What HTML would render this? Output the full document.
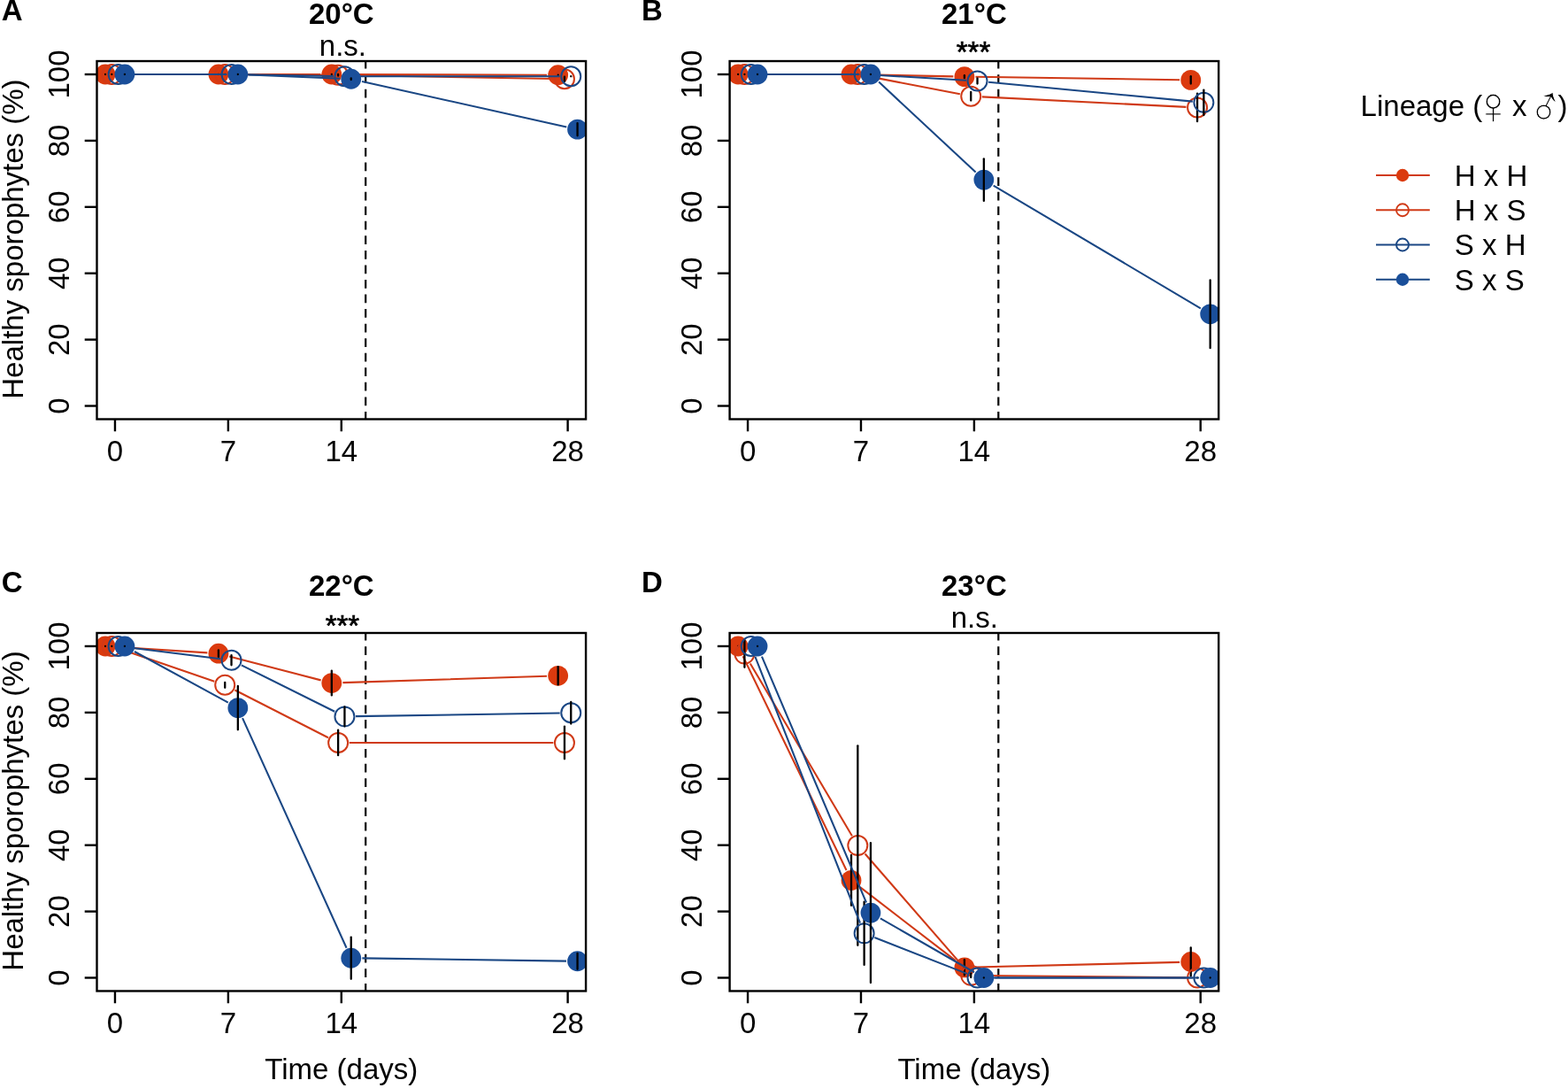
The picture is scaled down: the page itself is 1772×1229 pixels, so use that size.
<!DOCTYPE html>
<html><head><meta charset="utf-8"><title>Healthy sporophytes over time</title>
<style>html,body{margin:0;padding:0;background:#fff;}svg{display:block;}text{font-family:"Liberation Sans",Arial,sans-serif;fill:#000;}</style></head><body>
<svg width="1772" height="1229" viewBox="0 0 1772 1229">
<rect width="1772" height="1229" fill="#fff"/>
<defs>
<clipPath id="clipA"><rect x="109.5" y="69.03" width="552.58" height="404.47"/></clipPath>
<clipPath id="clipB"><rect x="824.6" y="69.03" width="552.58" height="404.47"/></clipPath>
<clipPath id="clipC"><rect x="109.5" y="715" width="552.58" height="404.47"/></clipPath>
<clipPath id="clipD"><rect x="824.6" y="715" width="552.58" height="404.47"/></clipPath>
</defs>
<g clip-path="url(#clipA)">
<line x1="413.2" y1="474.7" x2="413.2" y2="69.03" stroke="#000" stroke-width="2.2" stroke-dasharray="9.75 6.8"/>
<path d="M131.6,84.01L234.31,84.01M259.51,84.01L362.22,84.01M387.42,84.05L618.05,84.72" fill="none" stroke="#D03A17" stroke-width="2.1"/>
<circle cx="119" cy="84.01" r="11.4" fill="#DB3A0E"/>
<circle cx="246.91" cy="84.01" r="11.4" fill="#DB3A0E"/>
<circle cx="374.82" cy="84.01" r="11.4" fill="#DB3A0E"/>
<circle cx="630.65" cy="84.76" r="11.4" fill="#DB3A0E"/>
<line x1="119" y1="84.01" x2="119" y2="84.01" stroke="#000" stroke-width="2.3" stroke-linecap="round"/>
<line x1="246.91" y1="84.01" x2="246.91" y2="84.01" stroke="#000" stroke-width="2.3" stroke-linecap="round"/>
<line x1="374.82" y1="84.01" x2="374.82" y2="84.01" stroke="#000" stroke-width="2.3" stroke-linecap="round"/>
<line x1="630.65" y1="84.76" x2="630.65" y2="84.76" stroke="#000" stroke-width="2.3" stroke-linecap="round"/>
<path d="M138.91,84.01L241.62,84.01M266.82,84.08L369.53,84.69M394.73,84.98L625.36,89.03" fill="none" stroke="#D03A17" stroke-width="2.1"/>
<circle cx="126.31" cy="84.01" r="11.0" fill="none" stroke="#D03A17" stroke-width="2.0"/>
<circle cx="254.22" cy="84.01" r="11.0" fill="none" stroke="#D03A17" stroke-width="2.0"/>
<circle cx="382.13" cy="84.76" r="11.0" fill="none" stroke="#D03A17" stroke-width="2.0"/>
<circle cx="637.96" cy="89.25" r="11.0" fill="none" stroke="#D03A17" stroke-width="2.0"/>
<line x1="126.31" y1="84.01" x2="126.31" y2="84.01" stroke="#000" stroke-width="2.3" stroke-linecap="round"/>
<line x1="254.22" y1="84.01" x2="254.22" y2="84.01" stroke="#000" stroke-width="2.3" stroke-linecap="round"/>
<line x1="382.13" y1="84.01" x2="382.13" y2="85.51" stroke="#000" stroke-width="2.3" stroke-linecap="round"/>
<line x1="637.96" y1="86.63" x2="637.96" y2="91.88" stroke="#000" stroke-width="2.3" stroke-linecap="round"/>
<path d="M146.22,84.01L248.93,84.01M274.13,84.23L376.84,86.04M402.04,86.26L632.66,86.26" fill="none" stroke="#1A4784" stroke-width="2.1"/>
<circle cx="133.62" cy="84.01" r="11.0" fill="none" stroke="#1A4784" stroke-width="2.0"/>
<circle cx="261.53" cy="84.01" r="11.0" fill="none" stroke="#1A4784" stroke-width="2.0"/>
<circle cx="389.44" cy="86.26" r="11.0" fill="none" stroke="#1A4784" stroke-width="2.0"/>
<circle cx="645.26" cy="86.26" r="11.0" fill="none" stroke="#1A4784" stroke-width="2.0"/>
<line x1="133.62" y1="84.01" x2="133.62" y2="84.01" stroke="#000" stroke-width="2.3" stroke-linecap="round"/>
<line x1="261.53" y1="84.01" x2="261.53" y2="84.01" stroke="#000" stroke-width="2.3" stroke-linecap="round"/>
<line x1="389.44" y1="86.26" x2="389.44" y2="86.26" stroke="#000" stroke-width="2.3" stroke-linecap="round"/>
<line x1="645.26" y1="86.26" x2="645.26" y2="86.26" stroke="#000" stroke-width="2.3" stroke-linecap="round"/>
<path d="M153.53,84.01L256.24,84.01M281.43,84.53L384.16,88.74M409.05,91.99L640.27,143.44" fill="none" stroke="#1A4784" stroke-width="2.1"/>
<circle cx="140.93" cy="84.01" r="11.4" fill="#1A4F9A"/>
<circle cx="268.84" cy="84.01" r="11.4" fill="#1A4F9A"/>
<circle cx="396.75" cy="89.25" r="11.4" fill="#1A4F9A"/>
<circle cx="652.57" cy="146.18" r="11.4" fill="#1A4F9A"/>
<line x1="140.93" y1="84.01" x2="140.93" y2="84.01" stroke="#000" stroke-width="2.3" stroke-linecap="round"/>
<line x1="268.84" y1="84.01" x2="268.84" y2="84.01" stroke="#000" stroke-width="2.3" stroke-linecap="round"/>
<line x1="396.75" y1="88.5" x2="396.75" y2="90" stroke="#000" stroke-width="2.3" stroke-linecap="round"/>
<line x1="652.57" y1="139.06" x2="652.57" y2="153.29" stroke="#000" stroke-width="2.3" stroke-linecap="round"/>
</g>
<rect x="109.5" y="69.03" width="552.58" height="404.47" fill="none" stroke="#000" stroke-width="2.4"/>
<line x1="95.7" y1="458.52" x2="109.5" y2="458.52" stroke="#000" stroke-width="2.4"/>
<text x="0" y="0" font-size="33" text-anchor="middle" transform="translate(78.3,458.52) rotate(-90)">0</text>
<line x1="95.7" y1="383.62" x2="109.5" y2="383.62" stroke="#000" stroke-width="2.4"/>
<text x="0" y="0" font-size="33" text-anchor="middle" transform="translate(78.3,383.62) rotate(-90)">20</text>
<line x1="95.7" y1="308.72" x2="109.5" y2="308.72" stroke="#000" stroke-width="2.4"/>
<text x="0" y="0" font-size="33" text-anchor="middle" transform="translate(78.3,308.72) rotate(-90)">40</text>
<line x1="95.7" y1="233.81" x2="109.5" y2="233.81" stroke="#000" stroke-width="2.4"/>
<text x="0" y="0" font-size="33" text-anchor="middle" transform="translate(78.3,233.81) rotate(-90)">60</text>
<line x1="95.7" y1="158.91" x2="109.5" y2="158.91" stroke="#000" stroke-width="2.4"/>
<text x="0" y="0" font-size="33" text-anchor="middle" transform="translate(78.3,158.91) rotate(-90)">80</text>
<line x1="95.7" y1="84.01" x2="109.5" y2="84.01" stroke="#000" stroke-width="2.4"/>
<text x="0" y="0" font-size="33" text-anchor="middle" transform="translate(78.3,84.01) rotate(-90)">100</text>
<line x1="129.97" y1="473.5" x2="129.97" y2="487.3" stroke="#000" stroke-width="2.4"/>
<text x="129.97" y="520.53" font-size="33" text-anchor="middle">0</text>
<line x1="257.88" y1="473.5" x2="257.88" y2="487.3" stroke="#000" stroke-width="2.4"/>
<text x="257.88" y="520.53" font-size="33" text-anchor="middle">7</text>
<line x1="385.79" y1="473.5" x2="385.79" y2="487.3" stroke="#000" stroke-width="2.4"/>
<text x="385.79" y="520.53" font-size="33" text-anchor="middle">14</text>
<line x1="641.61" y1="473.5" x2="641.61" y2="487.3" stroke="#000" stroke-width="2.4"/>
<text x="641.61" y="520.53" font-size="33" text-anchor="middle">28</text>
<text x="0" y="0" font-size="33" text-anchor="middle" transform="translate(26.3,270.07) rotate(-90)">Healthy sporophytes (%)</text>
<text x="385.79" y="26.7" font-size="33" font-weight="bold" text-anchor="middle">20°C</text>
<text x="1.7" y="23.2" font-size="33" font-weight="bold">A</text>
<text x="387.45" y="62.9" font-size="33" text-anchor="middle">n.s.</text>
<g clip-path="url(#clipB)">
<line x1="1128.3" y1="474.7" x2="1128.3" y2="69.03" stroke="#000" stroke-width="2.2" stroke-dasharray="9.75 6.8"/>
<path d="M846.7,84.01L949.41,84.01M974.61,84.27L1077.33,86.37M1102.52,86.82L1333.15,90.19" fill="none" stroke="#D03A17" stroke-width="2.1"/>
<circle cx="834.1" cy="84.01" r="11.4" fill="#DB3A0E"/>
<circle cx="962.01" cy="84.01" r="11.4" fill="#DB3A0E"/>
<circle cx="1089.92" cy="86.63" r="11.4" fill="#DB3A0E"/>
<circle cx="1345.75" cy="90.38" r="11.4" fill="#DB3A0E"/>
<line x1="834.1" y1="84.01" x2="834.1" y2="84.01" stroke="#000" stroke-width="2.3" stroke-linecap="round"/>
<line x1="962.01" y1="84.01" x2="962.01" y2="84.01" stroke="#000" stroke-width="2.3" stroke-linecap="round"/>
<line x1="1089.92" y1="85.13" x2="1089.92" y2="88.13" stroke="#000" stroke-width="2.3" stroke-linecap="round"/>
<line x1="1345.75" y1="86.26" x2="1345.75" y2="94.5" stroke="#000" stroke-width="2.3" stroke-linecap="round"/>
<path d="M854.01,84.01L956.72,84.01M981.69,86.4L1084.86,106.34M1109.82,109.35L1340.47,120.84" fill="none" stroke="#D03A17" stroke-width="2.1"/>
<circle cx="841.41" cy="84.01" r="11.0" fill="none" stroke="#D03A17" stroke-width="2.0"/>
<circle cx="969.32" cy="84.01" r="11.0" fill="none" stroke="#D03A17" stroke-width="2.0"/>
<circle cx="1097.23" cy="108.73" r="11.0" fill="none" stroke="#D03A17" stroke-width="2.0"/>
<circle cx="1353.06" cy="121.46" r="11.0" fill="none" stroke="#D03A17" stroke-width="2.0"/>
<line x1="841.41" y1="84.01" x2="841.41" y2="84.01" stroke="#000" stroke-width="2.3" stroke-linecap="round"/>
<line x1="969.32" y1="84.01" x2="969.32" y2="84.01" stroke="#000" stroke-width="2.3" stroke-linecap="round"/>
<line x1="1097.23" y1="103.86" x2="1097.23" y2="113.6" stroke="#000" stroke-width="2.3" stroke-linecap="round"/>
<line x1="1353.06" y1="105.73" x2="1353.06" y2="137.19" stroke="#000" stroke-width="2.3" stroke-linecap="round"/>
<path d="M861.32,84.01L964.03,84.01M989.21,84.75L1091.96,90.76M1117.09,92.69L1347.82,114.65" fill="none" stroke="#1A4784" stroke-width="2.1"/>
<circle cx="848.72" cy="84.01" r="11.0" fill="none" stroke="#1A4784" stroke-width="2.0"/>
<circle cx="976.63" cy="84.01" r="11.0" fill="none" stroke="#1A4784" stroke-width="2.0"/>
<circle cx="1104.54" cy="91.5" r="11.0" fill="none" stroke="#1A4784" stroke-width="2.0"/>
<circle cx="1360.36" cy="115.84" r="11.0" fill="none" stroke="#1A4784" stroke-width="2.0"/>
<line x1="848.72" y1="84.01" x2="848.72" y2="84.01" stroke="#000" stroke-width="2.3" stroke-linecap="round"/>
<line x1="976.63" y1="84.01" x2="976.63" y2="84.01" stroke="#000" stroke-width="2.3" stroke-linecap="round"/>
<line x1="1104.54" y1="88.5" x2="1104.54" y2="94.5" stroke="#000" stroke-width="2.3" stroke-linecap="round"/>
<line x1="1360.36" y1="101.61" x2="1360.36" y2="130.08" stroke="#000" stroke-width="2.3" stroke-linecap="round"/>
<path d="M868.63,84.01L971.34,84.01M993.16,92.6L1102.63,194.52M1122.69,209.53L1356.84,348.36" fill="none" stroke="#1A4784" stroke-width="2.1"/>
<circle cx="856.03" cy="84.01" r="11.4" fill="#1A4F9A"/>
<circle cx="983.94" cy="84.01" r="11.4" fill="#1A4F9A"/>
<circle cx="1111.85" cy="203.1" r="11.4" fill="#1A4F9A"/>
<circle cx="1367.67" cy="354.78" r="11.4" fill="#1A4F9A"/>
<line x1="856.03" y1="84.01" x2="856.03" y2="84.01" stroke="#000" stroke-width="2.3" stroke-linecap="round"/>
<line x1="983.94" y1="84.01" x2="983.94" y2="84.01" stroke="#000" stroke-width="2.3" stroke-linecap="round"/>
<line x1="1111.85" y1="179.32" x2="1111.85" y2="226.89" stroke="#000" stroke-width="2.3" stroke-linecap="round"/>
<line x1="1367.67" y1="316.39" x2="1367.67" y2="393.17" stroke="#000" stroke-width="2.3" stroke-linecap="round"/>
</g>
<rect x="824.6" y="69.03" width="552.58" height="404.47" fill="none" stroke="#000" stroke-width="2.4"/>
<line x1="810.8" y1="458.52" x2="824.6" y2="458.52" stroke="#000" stroke-width="2.4"/>
<text x="0" y="0" font-size="33" text-anchor="middle" transform="translate(793.4,458.52) rotate(-90)">0</text>
<line x1="810.8" y1="383.62" x2="824.6" y2="383.62" stroke="#000" stroke-width="2.4"/>
<text x="0" y="0" font-size="33" text-anchor="middle" transform="translate(793.4,383.62) rotate(-90)">20</text>
<line x1="810.8" y1="308.72" x2="824.6" y2="308.72" stroke="#000" stroke-width="2.4"/>
<text x="0" y="0" font-size="33" text-anchor="middle" transform="translate(793.4,308.72) rotate(-90)">40</text>
<line x1="810.8" y1="233.81" x2="824.6" y2="233.81" stroke="#000" stroke-width="2.4"/>
<text x="0" y="0" font-size="33" text-anchor="middle" transform="translate(793.4,233.81) rotate(-90)">60</text>
<line x1="810.8" y1="158.91" x2="824.6" y2="158.91" stroke="#000" stroke-width="2.4"/>
<text x="0" y="0" font-size="33" text-anchor="middle" transform="translate(793.4,158.91) rotate(-90)">80</text>
<line x1="810.8" y1="84.01" x2="824.6" y2="84.01" stroke="#000" stroke-width="2.4"/>
<text x="0" y="0" font-size="33" text-anchor="middle" transform="translate(793.4,84.01) rotate(-90)">100</text>
<line x1="845.07" y1="473.5" x2="845.07" y2="487.3" stroke="#000" stroke-width="2.4"/>
<text x="845.07" y="520.53" font-size="33" text-anchor="middle">0</text>
<line x1="972.98" y1="473.5" x2="972.98" y2="487.3" stroke="#000" stroke-width="2.4"/>
<text x="972.98" y="520.53" font-size="33" text-anchor="middle">7</text>
<line x1="1100.89" y1="473.5" x2="1100.89" y2="487.3" stroke="#000" stroke-width="2.4"/>
<text x="1100.89" y="520.53" font-size="33" text-anchor="middle">14</text>
<line x1="1356.71" y1="473.5" x2="1356.71" y2="487.3" stroke="#000" stroke-width="2.4"/>
<text x="1356.71" y="520.53" font-size="33" text-anchor="middle">28</text>
<text x="1100.89" y="26.7" font-size="33" font-weight="bold" text-anchor="middle">21°C</text>
<text x="725.1" y="23.2" font-size="33" font-weight="bold">B</text>
<text x="1100" y="70.1" font-size="33" text-anchor="middle" stroke="#000" stroke-width="0.7">***</text>
<g clip-path="url(#clipC)">
<line x1="413.2" y1="1120.67" x2="413.2" y2="715" stroke="#000" stroke-width="2.2" stroke-dasharray="9.75 6.8"/>
<path d="M131.58,730.79L234.34,737.41M259.11,741.4L362.63,768.37M387.42,771.15L618.05,763.72" fill="none" stroke="#D03A17" stroke-width="2.1"/>
<circle cx="119" cy="729.98" r="11.4" fill="#DB3A0E"/>
<circle cx="246.91" cy="738.22" r="11.4" fill="#DB3A0E"/>
<circle cx="374.82" cy="771.55" r="11.4" fill="#DB3A0E"/>
<circle cx="630.65" cy="763.31" r="11.4" fill="#DB3A0E"/>
<line x1="119" y1="729.98" x2="119" y2="729.98" stroke="#000" stroke-width="2.3" stroke-linecap="round"/>
<line x1="246.91" y1="734.47" x2="246.91" y2="741.96" stroke="#000" stroke-width="2.3" stroke-linecap="round"/>
<line x1="374.82" y1="757.69" x2="374.82" y2="785.41" stroke="#000" stroke-width="2.3" stroke-linecap="round"/>
<line x1="630.65" y1="753.2" x2="630.65" y2="773.42" stroke="#000" stroke-width="2.3" stroke-linecap="round"/>
<path d="M138.23,734.06L242.3,769.71M265.45,779.52L370.91,833.24M394.73,838.96L625.36,838.96" fill="none" stroke="#D03A17" stroke-width="2.1"/>
<circle cx="126.31" cy="729.98" r="11.0" fill="none" stroke="#D03A17" stroke-width="2.0"/>
<circle cx="254.22" cy="773.8" r="11.0" fill="none" stroke="#D03A17" stroke-width="2.0"/>
<circle cx="382.13" cy="838.96" r="11.0" fill="none" stroke="#D03A17" stroke-width="2.0"/>
<circle cx="637.96" cy="838.96" r="11.0" fill="none" stroke="#D03A17" stroke-width="2.0"/>
<line x1="126.31" y1="729.98" x2="126.31" y2="729.98" stroke="#000" stroke-width="2.3" stroke-linecap="round"/>
<line x1="254.22" y1="770.8" x2="254.22" y2="776.79" stroke="#000" stroke-width="2.3" stroke-linecap="round"/>
<line x1="382.13" y1="824.73" x2="382.13" y2="853.19" stroke="#000" stroke-width="2.3" stroke-linecap="round"/>
<line x1="637.96" y1="820.61" x2="637.96" y2="857.31" stroke="#000" stroke-width="2.3" stroke-linecap="round"/>
<path d="M146.13,731.52L249.03,744.17M272.81,751.32L378.16,803.76M402.04,809.17L632.67,805.46" fill="none" stroke="#1A4784" stroke-width="2.1"/>
<circle cx="133.62" cy="729.98" r="11.0" fill="none" stroke="#1A4784" stroke-width="2.0"/>
<circle cx="261.53" cy="745.71" r="11.0" fill="none" stroke="#1A4784" stroke-width="2.0"/>
<circle cx="389.44" cy="809.38" r="11.0" fill="none" stroke="#1A4784" stroke-width="2.0"/>
<circle cx="645.26" cy="805.26" r="11.0" fill="none" stroke="#1A4784" stroke-width="2.0"/>
<line x1="133.62" y1="729.98" x2="133.62" y2="729.98" stroke="#000" stroke-width="2.3" stroke-linecap="round"/>
<line x1="261.53" y1="740.09" x2="261.53" y2="751.33" stroke="#000" stroke-width="2.3" stroke-linecap="round"/>
<line x1="389.44" y1="798.52" x2="389.44" y2="820.24" stroke="#000" stroke-width="2.3" stroke-linecap="round"/>
<line x1="645.26" y1="792.9" x2="645.26" y2="817.62" stroke="#000" stroke-width="2.3" stroke-linecap="round"/>
<path d="M152,736.01L257.78,793.61M274.04,811.12L391.56,1070.73M409.35,1082.38L639.97,1085.59" fill="none" stroke="#1A4784" stroke-width="2.1"/>
<circle cx="140.93" cy="729.98" r="11.4" fill="#1A4F9A"/>
<circle cx="268.84" cy="799.64" r="11.4" fill="#1A4F9A"/>
<circle cx="396.75" cy="1082.21" r="11.4" fill="#1A4F9A"/>
<circle cx="652.57" cy="1085.76" r="11.4" fill="#1A4F9A"/>
<line x1="140.93" y1="729.98" x2="140.93" y2="729.98" stroke="#000" stroke-width="2.3" stroke-linecap="round"/>
<line x1="268.84" y1="774.92" x2="268.84" y2="824.36" stroke="#000" stroke-width="2.3" stroke-linecap="round"/>
<line x1="396.75" y1="1058.61" x2="396.75" y2="1105.8" stroke="#000" stroke-width="2.3" stroke-linecap="round"/>
<line x1="652.57" y1="1076.78" x2="652.57" y2="1094.75" stroke="#000" stroke-width="2.3" stroke-linecap="round"/>
</g>
<rect x="109.5" y="715" width="552.58" height="404.47" fill="none" stroke="#000" stroke-width="2.4"/>
<line x1="95.7" y1="1104.49" x2="109.5" y2="1104.49" stroke="#000" stroke-width="2.4"/>
<text x="0" y="0" font-size="33" text-anchor="middle" transform="translate(78.3,1104.49) rotate(-90)">0</text>
<line x1="95.7" y1="1029.59" x2="109.5" y2="1029.59" stroke="#000" stroke-width="2.4"/>
<text x="0" y="0" font-size="33" text-anchor="middle" transform="translate(78.3,1029.59) rotate(-90)">20</text>
<line x1="95.7" y1="954.69" x2="109.5" y2="954.69" stroke="#000" stroke-width="2.4"/>
<text x="0" y="0" font-size="33" text-anchor="middle" transform="translate(78.3,954.69) rotate(-90)">40</text>
<line x1="95.7" y1="879.78" x2="109.5" y2="879.78" stroke="#000" stroke-width="2.4"/>
<text x="0" y="0" font-size="33" text-anchor="middle" transform="translate(78.3,879.78) rotate(-90)">60</text>
<line x1="95.7" y1="804.88" x2="109.5" y2="804.88" stroke="#000" stroke-width="2.4"/>
<text x="0" y="0" font-size="33" text-anchor="middle" transform="translate(78.3,804.88) rotate(-90)">80</text>
<line x1="95.7" y1="729.98" x2="109.5" y2="729.98" stroke="#000" stroke-width="2.4"/>
<text x="0" y="0" font-size="33" text-anchor="middle" transform="translate(78.3,729.98) rotate(-90)">100</text>
<line x1="129.97" y1="1119.47" x2="129.97" y2="1133.27" stroke="#000" stroke-width="2.4"/>
<text x="129.97" y="1166.5" font-size="33" text-anchor="middle">0</text>
<line x1="257.88" y1="1119.47" x2="257.88" y2="1133.27" stroke="#000" stroke-width="2.4"/>
<text x="257.88" y="1166.5" font-size="33" text-anchor="middle">7</text>
<line x1="385.79" y1="1119.47" x2="385.79" y2="1133.27" stroke="#000" stroke-width="2.4"/>
<text x="385.79" y="1166.5" font-size="33" text-anchor="middle">14</text>
<line x1="641.61" y1="1119.47" x2="641.61" y2="1133.27" stroke="#000" stroke-width="2.4"/>
<text x="641.61" y="1166.5" font-size="33" text-anchor="middle">28</text>
<text x="0" y="0" font-size="33" text-anchor="middle" transform="translate(26.3,916.04) rotate(-90)">Healthy sporophytes (%)</text>
<text x="385.79" y="672.67" font-size="33" font-weight="bold" text-anchor="middle">22°C</text>
<text x="1.7" y="669.17" font-size="33" font-weight="bold">C</text>
<text x="386.9" y="717.7" font-size="33" text-anchor="middle" stroke="#000" stroke-width="0.7">***</text>
<text x="385.79" y="1219.4" font-size="33" text-anchor="middle">Time (days)</text>
<g clip-path="url(#clipD)">
<line x1="1128.3" y1="1120.67" x2="1128.3" y2="715" stroke="#000" stroke-width="2.2" stroke-dasharray="9.75 6.8"/>
<path d="M839.59,741.32L956.53,983.04M972,1002.07L1079.94,1085.19M1102.52,1092.57L1333.15,1086.83" fill="none" stroke="#D03A17" stroke-width="2.1"/>
<circle cx="834.1" cy="729.98" r="11.4" fill="#DB3A0E"/>
<circle cx="962.01" cy="994.38" r="11.4" fill="#DB3A0E"/>
<circle cx="1089.92" cy="1092.88" r="11.4" fill="#DB3A0E"/>
<circle cx="1345.75" cy="1086.51" r="11.4" fill="#DB3A0E"/>
<line x1="834.1" y1="729.98" x2="834.1" y2="729.98" stroke="#000" stroke-width="2.3" stroke-linecap="round"/>
<line x1="962.01" y1="965.92" x2="962.01" y2="1022.85" stroke="#000" stroke-width="2.3" stroke-linecap="round"/>
<line x1="1089.92" y1="1084.27" x2="1089.92" y2="1101.49" stroke="#000" stroke-width="2.3" stroke-linecap="round"/>
<line x1="1345.75" y1="1070.41" x2="1345.75" y2="1102.62" stroke="#000" stroke-width="2.3" stroke-linecap="round"/>
<path d="M847.82,749.44L962.91,944.21M977.6,964.56L1088.96,1092.37M1109.83,1102L1340.46,1104.36" fill="none" stroke="#D03A17" stroke-width="2.1"/>
<circle cx="841.41" cy="738.59" r="11.0" fill="none" stroke="#D03A17" stroke-width="2.0"/>
<circle cx="969.32" cy="955.06" r="11.0" fill="none" stroke="#D03A17" stroke-width="2.0"/>
<circle cx="1097.23" cy="1101.87" r="11.0" fill="none" stroke="#D03A17" stroke-width="2.0"/>
<circle cx="1353.06" cy="1104.49" r="11.0" fill="none" stroke="#D03A17" stroke-width="2.0"/>
<line x1="841.41" y1="723.43" x2="841.41" y2="753.76" stroke="#000" stroke-width="2.3" stroke-linecap="round"/>
<line x1="969.32" y1="842.33" x2="969.32" y2="1067.79" stroke="#000" stroke-width="2.3" stroke-linecap="round"/>
<line x1="1097.23" y1="1099.62" x2="1097.23" y2="1104.12" stroke="#000" stroke-width="2.3" stroke-linecap="round"/>
<line x1="1353.06" y1="1104.49" x2="1353.06" y2="1104.49" stroke="#000" stroke-width="2.3" stroke-linecap="round"/>
<path d="M853.34,741.7L972.01,1042.58M988.36,1058.91L1092.81,1099.89M1117.14,1104.49L1347.76,1104.49" fill="none" stroke="#1A4784" stroke-width="2.1"/>
<circle cx="848.72" cy="729.98" r="11.0" fill="none" stroke="#1A4784" stroke-width="2.0"/>
<circle cx="976.63" cy="1054.31" r="11.0" fill="none" stroke="#1A4784" stroke-width="2.0"/>
<circle cx="1104.54" cy="1104.49" r="11.0" fill="none" stroke="#1A4784" stroke-width="2.0"/>
<circle cx="1360.36" cy="1104.49" r="11.0" fill="none" stroke="#1A4784" stroke-width="2.0"/>
<line x1="848.72" y1="729.98" x2="848.72" y2="729.98" stroke="#000" stroke-width="2.3" stroke-linecap="round"/>
<line x1="976.63" y1="1018.73" x2="976.63" y2="1089.88" stroke="#000" stroke-width="2.3" stroke-linecap="round"/>
<line x1="1104.54" y1="1104.49" x2="1104.54" y2="1104.49" stroke="#000" stroke-width="2.3" stroke-linecap="round"/>
<line x1="1360.36" y1="1104.49" x2="1360.36" y2="1104.49" stroke="#000" stroke-width="2.3" stroke-linecap="round"/>
<path d="M860.96,741.58L979.01,1019.49M994.87,1037.36L1100.92,1098.22M1124.45,1104.49L1355.07,1104.49" fill="none" stroke="#1A4784" stroke-width="2.1"/>
<circle cx="856.03" cy="729.98" r="11.4" fill="#1A4F9A"/>
<circle cx="983.94" cy="1031.09" r="11.4" fill="#1A4F9A"/>
<circle cx="1111.85" cy="1104.49" r="11.4" fill="#1A4F9A"/>
<circle cx="1367.67" cy="1104.49" r="11.4" fill="#1A4F9A"/>
<line x1="856.03" y1="729.98" x2="856.03" y2="729.98" stroke="#000" stroke-width="2.3" stroke-linecap="round"/>
<line x1="983.94" y1="952.06" x2="983.94" y2="1110.11" stroke="#000" stroke-width="2.3" stroke-linecap="round"/>
<line x1="1111.85" y1="1104.49" x2="1111.85" y2="1104.49" stroke="#000" stroke-width="2.3" stroke-linecap="round"/>
<line x1="1367.67" y1="1104.49" x2="1367.67" y2="1104.49" stroke="#000" stroke-width="2.3" stroke-linecap="round"/>
</g>
<rect x="824.6" y="715" width="552.58" height="404.47" fill="none" stroke="#000" stroke-width="2.4"/>
<line x1="810.8" y1="1104.49" x2="824.6" y2="1104.49" stroke="#000" stroke-width="2.4"/>
<text x="0" y="0" font-size="33" text-anchor="middle" transform="translate(793.4,1104.49) rotate(-90)">0</text>
<line x1="810.8" y1="1029.59" x2="824.6" y2="1029.59" stroke="#000" stroke-width="2.4"/>
<text x="0" y="0" font-size="33" text-anchor="middle" transform="translate(793.4,1029.59) rotate(-90)">20</text>
<line x1="810.8" y1="954.69" x2="824.6" y2="954.69" stroke="#000" stroke-width="2.4"/>
<text x="0" y="0" font-size="33" text-anchor="middle" transform="translate(793.4,954.69) rotate(-90)">40</text>
<line x1="810.8" y1="879.78" x2="824.6" y2="879.78" stroke="#000" stroke-width="2.4"/>
<text x="0" y="0" font-size="33" text-anchor="middle" transform="translate(793.4,879.78) rotate(-90)">60</text>
<line x1="810.8" y1="804.88" x2="824.6" y2="804.88" stroke="#000" stroke-width="2.4"/>
<text x="0" y="0" font-size="33" text-anchor="middle" transform="translate(793.4,804.88) rotate(-90)">80</text>
<line x1="810.8" y1="729.98" x2="824.6" y2="729.98" stroke="#000" stroke-width="2.4"/>
<text x="0" y="0" font-size="33" text-anchor="middle" transform="translate(793.4,729.98) rotate(-90)">100</text>
<line x1="845.07" y1="1119.47" x2="845.07" y2="1133.27" stroke="#000" stroke-width="2.4"/>
<text x="845.07" y="1166.5" font-size="33" text-anchor="middle">0</text>
<line x1="972.98" y1="1119.47" x2="972.98" y2="1133.27" stroke="#000" stroke-width="2.4"/>
<text x="972.98" y="1166.5" font-size="33" text-anchor="middle">7</text>
<line x1="1100.89" y1="1119.47" x2="1100.89" y2="1133.27" stroke="#000" stroke-width="2.4"/>
<text x="1100.89" y="1166.5" font-size="33" text-anchor="middle">14</text>
<line x1="1356.71" y1="1119.47" x2="1356.71" y2="1133.27" stroke="#000" stroke-width="2.4"/>
<text x="1356.71" y="1166.5" font-size="33" text-anchor="middle">28</text>
<text x="1100.89" y="672.67" font-size="33" font-weight="bold" text-anchor="middle">23°C</text>
<text x="725.1" y="669.17" font-size="33" font-weight="bold">D</text>
<text x="1101.25" y="708.7" font-size="33" text-anchor="middle">n.s.</text>
<text x="1100.89" y="1219.4" font-size="33" text-anchor="middle">Time (days)</text>
<text x="1537.6" y="130.7" font-size="33">Lineage (</text>
<text x="1709.1" y="130.7" font-size="33">x</text>
<text x="1760.6" y="130.7" font-size="33">)</text>
<text x="1665.1" y="140.1" font-size="60" stroke="#fff" stroke-width="0.8">♀</text>
<text x="0" y="0" font-size="60" stroke="#fff" stroke-width="0.8" transform="translate(1744.5,126.55) rotate(-18.1) translate(-18.35,15.8)">♂</text>
<line x1="1555" y1="198" x2="1615.8" y2="198" stroke="#D03A17" stroke-width="2"/>
<circle cx="1585" cy="198" r="7.2" fill="#DB3A0E"/>
<text x="1643.8" y="209.8" font-size="33">H x H</text>
<line x1="1555" y1="237.25" x2="1615.8" y2="237.25" stroke="#D03A17" stroke-width="2"/>
<circle cx="1585" cy="237.25" r="7.0" fill="none" stroke="#D03A17" stroke-width="1.9"/>
<text x="1643.8" y="249.05" font-size="33">H x S</text>
<line x1="1555" y1="276.5" x2="1615.8" y2="276.5" stroke="#1A4784" stroke-width="2"/>
<circle cx="1585" cy="276.5" r="7.0" fill="none" stroke="#1A4784" stroke-width="1.9"/>
<text x="1643.8" y="288.3" font-size="33">S x H</text>
<line x1="1555" y1="315.75" x2="1615.8" y2="315.75" stroke="#1A4784" stroke-width="2"/>
<circle cx="1585" cy="315.75" r="7.2" fill="#1A4F9A"/>
<text x="1643.8" y="327.55" font-size="33">S x S</text>
</svg></body></html>
